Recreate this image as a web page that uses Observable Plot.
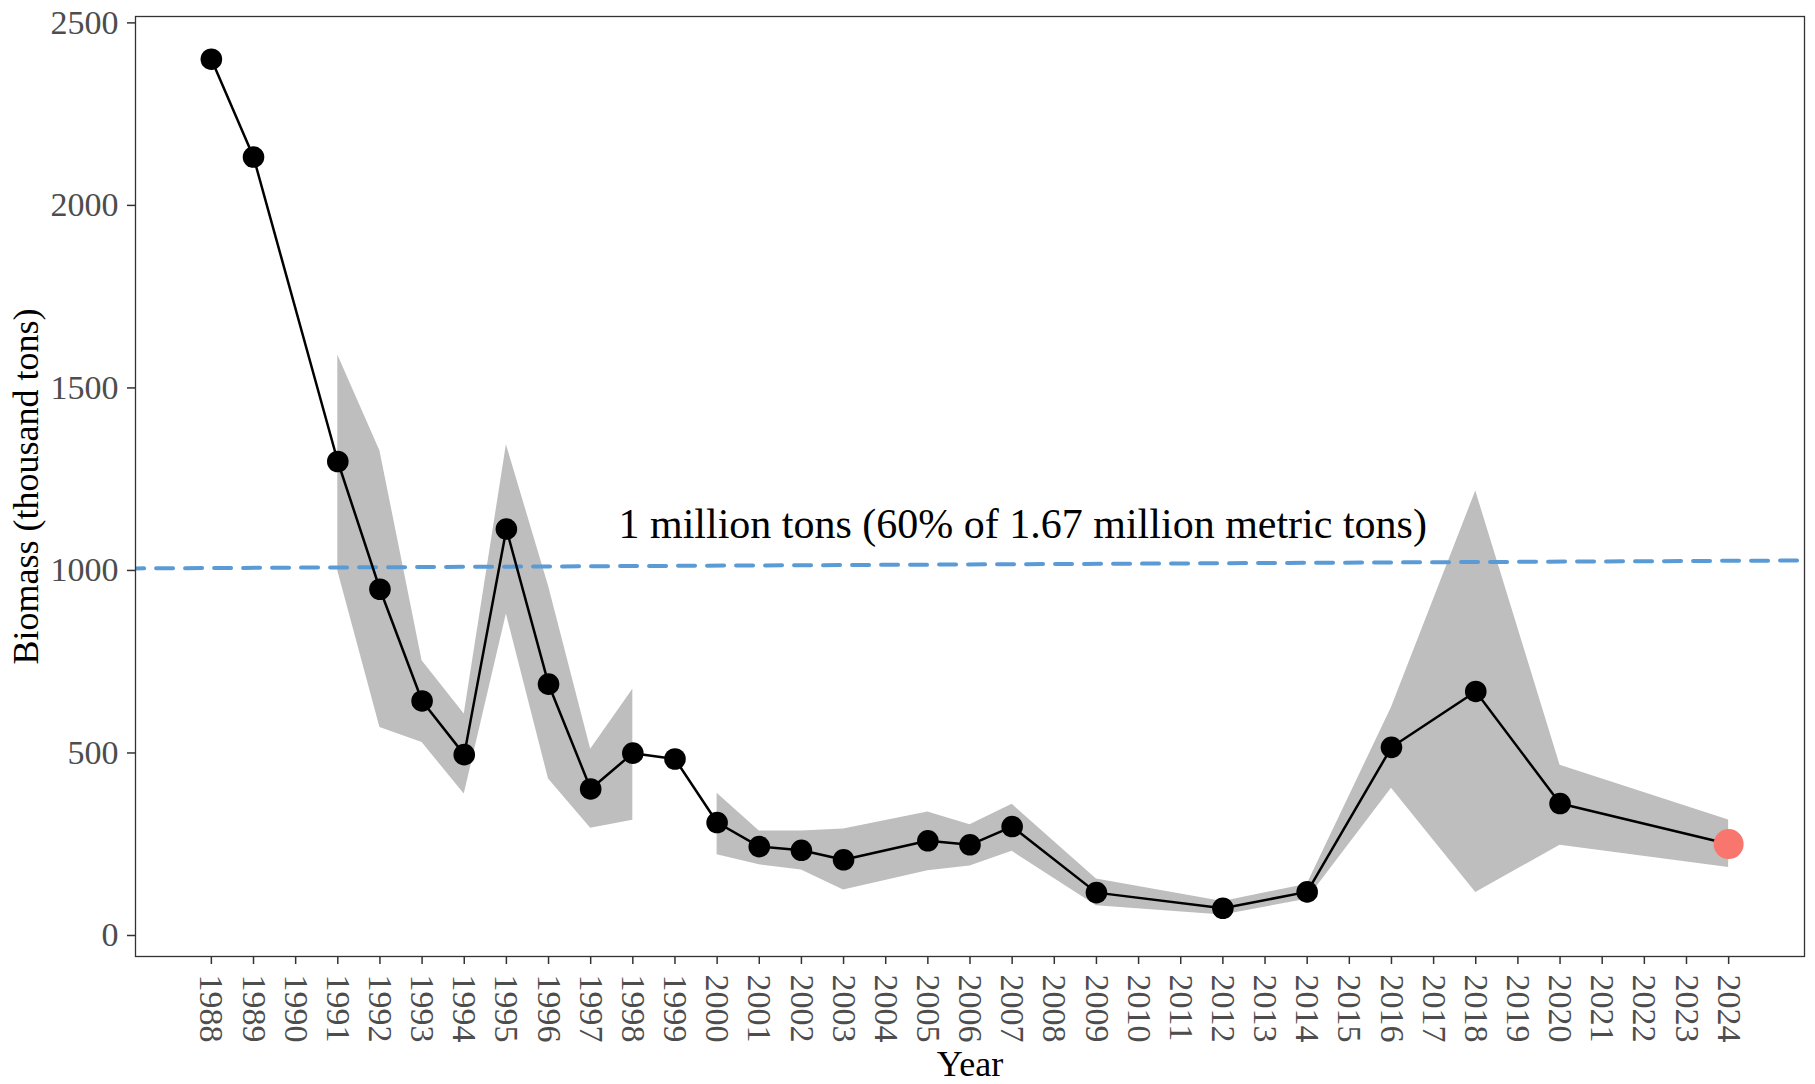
<!DOCTYPE html>
<html>
<head>
<meta charset="utf-8">
<script src="https://cdn.jsdelivr.net/npm/d3@7"></script>
<script src="https://cdn.jsdelivr.net/npm/@observablehq/plot@0.6"></script>
<style>
  html, body { margin: 0; padding: 0; background: #ffffff; }
  svg { display: block; }
</style>
</head>
<body>
<div id="chart"></div>
<script>
// ---- Data ----
const years   = [1988, 1989, 1991, 1992, 1993, 1994, 1995, 1996, 1997, 1998, 1999, 2000, 2001, 2002, 2003, 2005, 2006, 2007, 2009, 2012, 2014, 2016, 2018, 2020, 2024];
const biomass = [2395, 2127, 1293,  943,  637,  490, 1108,  683,  396,  494,  478,  304,  238,  228,  202,  254,  243,  293,  112,   69,  114,  510,  663,  356,  245];
const lower   = [null, null,  993,  564,  523,  382,  875,  423,  288,  310, null,  216,  188,  174,  119,  172,  185,  225,   76,   51,   94,  398,  112,  242,  181];
const upper   = [null, null, 1585, 1322,  747,  601, 1339,  952,  505,  669, null,  384,  281,  281,  286,  333,  298,  354,  149,   88,  135,  619, 1212,  461,  311];
const highlightYear = 2024;

// reference line (1 million tons)
const refYears  = [1986, 2026];
const refValues = [1000, 1022];
const annoX    = [2007.25];
const annoY    = [1121];
const annoText = ["1 million tons (60% of 1.67 million metric tons)"];

const xTickValues = d3.range(1988, 2025);
const yTickValues = [0, 500, 1000, 1500, 2000, 2500];
const xTitle = "Year";
const yTitle = "Biomass (thousand tons)";

// ---- Tables built from the arrays ----
const rows = years.map((year, i) => ({
  year,
  biomass: biomass[i],
  lower: lower[i] == null ? NaN : lower[i],
  upper: upper[i] == null ? NaN : upper[i]
}));
const refRows = refYears.map((year, i) => ({year, value: refValues[i]}));
const annoRows = annoText.map((t, i) => ({x: annoX[i], y: annoY[i], t}));

const font = "'Liberation Serif', 'Times New Roman', serif";

const chart = Plot.plot({
  width: 1815,
  height: 1084,
  marginLeft: 135,
  marginRight: 11,
  marginTop: 16,
  marginBottom: 128,
  style: {fontFamily: font, background: "#ffffff", color: "#000"},
  x: {type: "linear", domain: [1986.2, 2025.8], axis: null},
  y: {type: "linear", domain: [-63, 2512], axis: null},
  marks: [
    Plot.areaY(rows, {x: "year", y1: "lower", y2: "upper", fill: "#BEBEBE", fillOpacity: 1}),
    Plot.line(refRows, {x: "year", y: "value", stroke: "#5B9BD5", strokeWidth: 4, strokeDasharray: "17,12", clip: true}),
    Plot.line(rows, {x: "year", y: "biomass", stroke: "#000", strokeWidth: 2.5}),
    Plot.dot(rows.filter(d => d.year !== highlightYear), {x: "year", y: "biomass", r: 10.8, fill: "#000", stroke: null}),
    Plot.dot(rows.filter(d => d.year === highlightYear), {x: "year", y: "biomass", r: 15, fill: "#F8766D", stroke: null}),
    Plot.text(annoRows, {x: "x", y: "y", text: "t", fontSize: 42, fill: "#000", textAnchor: "middle", fontFamily: font}),
    Plot.frame({stroke: "#333333", strokeWidth: 1.3}),
    Plot.axisX({
      ticks: xTickValues, tickFormat: "d", tickSize: 8, tickPadding: 10, tickRotate: 90,
      fontSize: 34, fill: "#4d4d4d", stroke: "#333333", strokeWidth: 1.5, label: null, fontFamily: font
    }),
    Plot.axisY({
      ticks: yTickValues, tickFormat: "d", tickSize: 8, tickPadding: 9, dy: 2,
      fontSize: 34, fill: "#4d4d4d", stroke: "#333333", strokeWidth: 1.5, label: null, fontFamily: font
    }),
    Plot.text([xTitle], {frameAnchor: "bottom", dy: 119, lineAnchor: "bottom", textAnchor: "middle", fontSize: 36, fill: "#000", fontFamily: font}),
    Plot.text([yTitle], {frameAnchor: "left", rotate: -90, dx: -123, lineAnchor: "top", textAnchor: "middle", fontSize: 36, fill: "#000", fontFamily: font})
  ]
});

document.getElementById("chart").appendChild(chart);
</script>
</body>
</html>
